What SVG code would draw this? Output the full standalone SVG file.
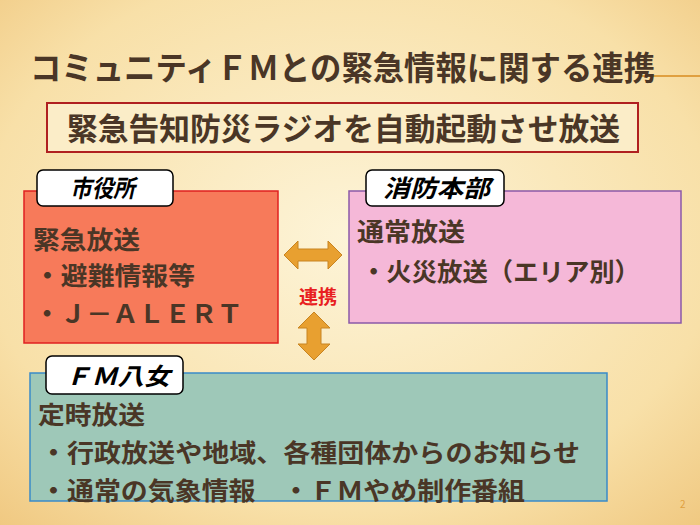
<svg xmlns="http://www.w3.org/2000/svg" width="700" height="525" viewBox="0 0 700 525">
<defs>
<radialGradient id="bg" cx="0.5" cy="0.45" r="0.75">
<stop offset="0" stop-color="#fdf4d8"/><stop offset="0.7" stop-color="#f8e0a8"/><stop offset="1" stop-color="#f0c880"/>
</radialGradient>
</defs>
<style>
text{font-family:"Noto Sans CJK JP","Noto Sans",sans-serif;font-weight:bold;fill:#4a3626}
.lab{fill:#fff;stroke:#000;stroke-width:1.5}
.lt{font-style:italic;fill:#000;font-size:24px}
.b{font-size:25px}
.arr{fill:#e8a030;stroke:#c88420;stroke-width:1}
</style>
<rect width="700" height="525" fill="url(#bg)"/>
<line x1="640" y1="76" x2="700" y2="76" stroke="#e0a040" stroke-width="2"/>
<text x="30" y="80" font-size="33" textLength="625" lengthAdjust="spacingAndGlyphs">コミュニティＦＭとの緊急情報に関する連携</text>
<g id="banner">
<rect x="47" y="103" width="591" height="49" fill="#fbedc8" stroke="#b02020" stroke-width="2"/>
<text x="67" y="140" font-size="31" textLength="553" lengthAdjust="spacingAndGlyphs">緊急告知防災ラジオを自動起動させ放送</text>
</g>
<g id="city">
<rect x="24" y="191" width="254" height="152" fill="#f77a5a" stroke="#e02020" stroke-width="1.5"/>
<rect class="lab" x="37" y="170" width="136" height="36" rx="6"/>
<text class="lt" x="70" y="197" textLength="65" lengthAdjust="spacingAndGlyphs">市役所</text>
<text class="b" x="33" y="249" textLength="107" lengthAdjust="spacingAndGlyphs">緊急放送</text>
<text class="b" x="34" y="285" textLength="161" lengthAdjust="spacingAndGlyphs">・避難情報等</text>
<text class="b" x="34" y="323" textLength="209" lengthAdjust="spacingAndGlyphs">・Ｊ－ＡＬＥＲＴ</text>
</g>
<g id="fire">
<rect x="349" y="191" width="332" height="132" fill="#f5b8d8" stroke="#8a5aa8" stroke-width="1.5"/>
<rect class="lab" x="366" y="170" width="138" height="36" rx="6"/>
<text class="lt" x="383" y="197" textLength="107" lengthAdjust="spacingAndGlyphs">消防本部</text>
<text class="b" x="357" y="241" textLength="108" lengthAdjust="spacingAndGlyphs">通常放送</text>
<text class="b" x="361" y="281" textLength="279" lengthAdjust="spacingAndGlyphs">・火災放送（エリア別）</text>
</g>
<g id="fm">
<rect x="30" y="373" width="577" height="128" fill="#9ec8b8" stroke="#3a8ac8" stroke-width="1.5"/>
<rect class="lab" x="46" y="356" width="137" height="38" rx="6"/>
<text class="lt" x="65" y="385" textLength="105" lengthAdjust="spacingAndGlyphs">ＦＭ八女</text>
<text class="b" x="38" y="424" textLength="107" lengthAdjust="spacingAndGlyphs">定時放送</text>
<text class="b" x="40" y="462" textLength="540" lengthAdjust="spacingAndGlyphs">・行政放送や地域、各種団体からのお知らせ</text>
<text class="b" x="40" y="500" textLength="485" lengthAdjust="spacingAndGlyphs">・通常の気象情報　・ＦＭやめ制作番組</text>
</g>
<g id="connectors">
<polygon class="arr" points="284,255 298,241 298,249 328,249 328,241 342,255 328,269 328,261 298,261 298,269"/>
<polygon class="arr" points="314,312 330,328 321,328 321,344 330,344 314,360 298,344 307,344 307,328 298,328"/>
<text x="318" y="304" font-size="19" text-anchor="middle" style="fill:#e82020">連携</text>
</g>
<text x="680" y="508" font-size="10" style="fill:#e0a040;font-weight:normal">2</text>
</svg>
